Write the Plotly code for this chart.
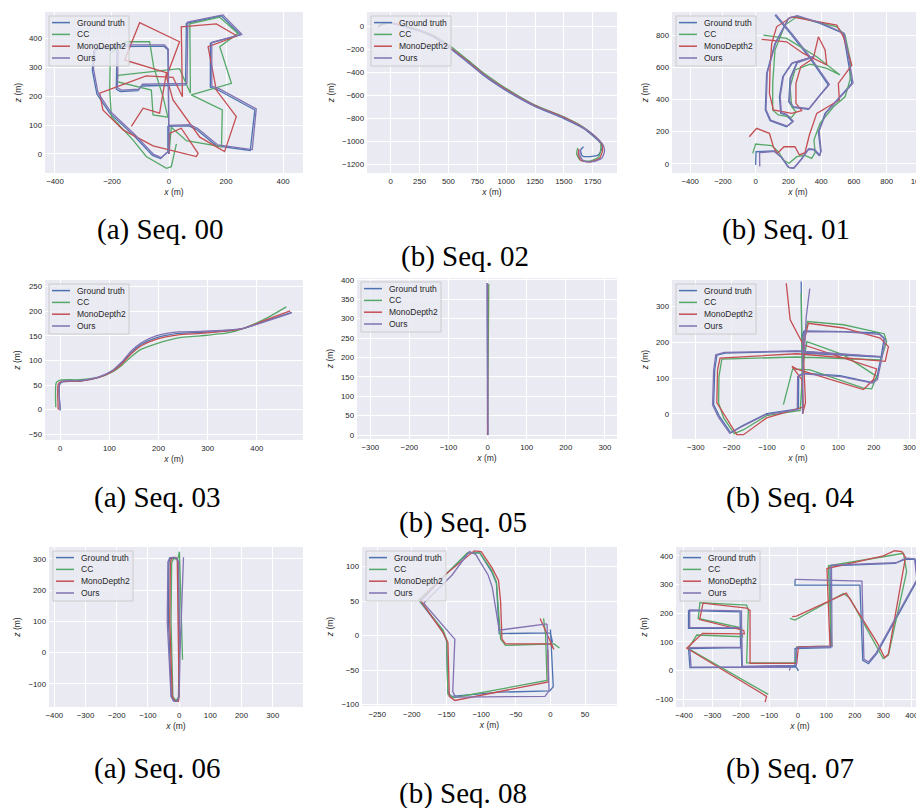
import plotly.graph_objects as go

W, H = 924, 808
OFF = 8  # the page body has an 8px margin; layout positions below are page pixels

SERIES = ["Ground truth", "CC", "MonoDepth2", "Ours"]
COLORS = ["#4C72B0", "#55A868", "#C44E52", "#8172B2"]

# ---------------- data (x, z) in metres ----------------
seq00_gt = [(0,0),(-4,360),(-19,373),(-182,371),(-185,224),(-171,216),(-109,219),(-97,235),(58,239),(61,452),(184,478),(250,412),(145,383),(145,231),(172,221),(301,152),(285,12),(166,28),(96,85),(70,97),(-4,95),(-4,8),(-30,-16),(-58,-5),(-126,66),(-208,141),(-253,207),(-269,290),(-264,357),(-243,364),(-185,364)]
seq00_cc = [(0,0),(8,92),(61,46),(184,25),(187,152),(78,204),(219,244),(178,371),(242,417),(178,473),(73,450),(75,210),(37,295),(-179,272),(-182,250),(-62,221),(-56,135),(-4,127),(-21,198),(-54,302),(-68,388),(-150,388),(-206,348),(-208,221),(-202,129),(-126,48),(-80,-9),(-9,-50),(8,-44),(26,35)]
seq00_md2 = [(0,0),(2,71),(43,89),(102,2),(96,-9),(-56,28),(-161,83),(-232,152),(-243,210),(-80,270),(14,265),(47,198),(43,440),(166,450),(239,408),(137,371),(166,221),(236,129),(195,8),(108,58),(14,187),(-9,267),(37,388),(-103,454),(-156,325),(-9,281),(-33,141),(-91,158),(-132,95)]
seq00_ours = [(0,0),(-2,362),(-16,377),(-178,377),(-181,229),(-167,221),(-105,224),(-93,241),(63,244),(66,456),(189,481),(255,414),(150,386),(150,235),(177,225),(306,156),(292,15),(171,31),(101,88),(74,101),(0,99),(-1,10),(-27,-13),(-55,-1),(-122,69),(-204,145),(-249,211),(-265,294),(-260,361),(-239,369),(-181,369)]

seq02_gt = [(-110,-5),(-60,18),(0,25),(80,5),(250,-45),(370,-95),(510,-190),(660,-310),(800,-425),(950,-530),(1090,-615),(1250,-700),(1500,-805),(1670,-890),(1760,-962),(1820,-1020),(1830,-1060),(1800,-1120),(1730,-1135),(1660,-1130),(1645,-1080),(1670,-1050)]
seq02_cc = [(-110,0),(-60,22),(0,30),(80,12),(250,-35),(370,-80),(510,-170),(660,-290),(800,-405),(950,-510),(1090,-598),(1250,-688),(1500,-790),(1670,-880),(1760,-952),(1815,-1010),(1820,-1060),(1800,-1140),(1720,-1175),(1640,-1165),(1610,-1110),(1620,-1060)]
seq02_md2 = [(-110,-5),(-60,18),(0,27),(80,8),(250,-40),(370,-90),(510,-185),(660,-300),(800,-415),(950,-520),(1090,-605),(1250,-692),(1500,-795),(1670,-885),(1765,-955),(1830,-1030),(1835,-1080),(1810,-1150),(1730,-1180),(1650,-1170),(1625,-1120),(1630,-1070)]
seq02_ours = [(-100,-2),(-55,20),(0,28),(80,7),(250,-42),(370,-92),(510,-188),(660,-306),(800,-420),(950,-526),(1090,-610),(1250,-696),(1500,-800),(1670,-886),(1770,-960),(1840,-1035),(1852,-1085),(1828,-1150),(1750,-1180),(1675,-1175),(1640,-1130),(1642,-1075)]

seq01_gt = [(0,-6),(2,76),(112,81),(153,45),(200,-21),(230,-27),(275,25),(322,91),(356,87),(389,50),(397,76),(383,200),(424,314),(515,417),(587,500),(560,665),(536,810),(393,872),(251,917),(200,903),(118,748),(67,562),(59,335),(88,269),(189,231),(226,262),(185,304),(153,314),(145,417),(165,541),(220,624),(352,665),(251,628),(210,531),(202,386),(226,351),(322,339),(393,428),(444,490),(332,655),(220,800),(118,924)]
seq01_cc = [(-18,66),(0,124),(98,114),(138,76),(173,21),(204,4),(251,45),(297,54),(342,35),(363,70),(356,149),(393,252),(475,355),(546,417),(576,521),(580,634),(546,800),(495,851),(251,913),(179,862),(118,707),(104,500),(104,335),(138,304),(220,289),(246,324),(220,355),(210,479),(240,583),(332,620),(434,593),(515,552),(373,665),(189,779),(47,800)]
seq01_md2 = [(-39,169),(6,221),(84,190),(108,107),(132,66),(173,107),(240,107),(267,56),(301,70),(328,180),(373,314),(434,351),(511,397),(505,500),(536,545),(587,614),(536,789),(495,862),(220,913),(128,851),(98,748),(88,603),(84,438),(108,335),(220,314),(281,331),(246,376),(246,500),(275,603),(352,655),(383,789),(424,707),(434,614),(291,686),(189,758),(37,773)]
seq01_ours = [(25,-15),(24,70),(115,78),(158,42),(205,-22),(235,-25),(280,28),(325,95),(360,90),(392,55),(400,80),(388,205),(430,318),(522,420),(595,502),(566,668),(540,812),(396,875),(254,920),(203,906),(122,750),(71,565),(63,338),(92,272),(193,235),(230,266),(189,308),(157,318),(150,420),(170,545),(225,628),(357,668),(256,632),(215,535),(207,390),(231,355),(327,343),(398,432),(450,494),(337,659),(225,804),(122,928)]

seq03_gt = [(0,0),(-2,50),(5,57),(40,58),(80,66),(105,78),(125,95),(145,117),(165,133),(195,146),(240,155),(285,157),(340,160),(375,166),(420,181),(471,198)]
seq03_cc = [(-9,5),(-8,55),(0,60),(40,61),(80,66),(105,76),(125,90),(145,108),(165,123),(195,134),(240,146),(285,150),(340,156),(375,166),(420,186),(460,209)]
seq03_md2 = [(-4,0),(-4,52),(2,57),(40,58),(80,66),(105,77),(125,93),(145,114),(165,130),(195,143),(240,152),(285,155),(340,160),(375,166),(420,183),(468,201)]
seq03_ours = [(0,-2),(-1,52),(6,58),(40,59),(80,67),(105,79),(125,97),(145,120),(165,136),(195,150),(240,158),(285,159),(340,162),(375,166),(420,180),(471,197)]

seq05_gt = [(0,0),(0,100),(-1,200),(-1,300),(-1,392)]
seq05_cc = [(0,0),(1,100),(1.5,200),(2,300),(3,390)]
seq05_md2 = [(0,0),(0.5,100),(0.5,200),(0,300),(0,388)]
seq05_ours = [(1,0),(0.5,100),(0,200),(-0.5,300),(-1,392)]

seq04_gt = [(0,1),(-1,105),(-1,216),(4,232),(115,230),(213,226),(229,212),(220,156),(208,100),(194,88),(105,107),(2,114),(-11,107),(-12,14),(-101,1),(-171,-34),(-202,-53),(-234,-6),(-250,26),(-247,123),(-241,164),(-218,170),(-16,175),(220,159),(-2,170),(-4,370)]
seq04_cc = [(-4,337),(0,7),(-1,95),(0,198),(14,258),(115,249),(229,224),(236,202),(220,151),(-16,159),(-227,153),(-235,105),(-236,31),(-222,-11),(-192,-55),(-166,-44),(-101,-5),(-7,10),(2,142),(12,202),(115,165),(208,105),(194,70),(171,72),(21,123),(-28,126),(-54,26)]
seq04_md2 = [(0,1),(8,31),(4,123),(2,193),(16,253),(115,240),(218,212),(241,188),(232,147),(-16,168),(-232,156),(-239,123),(-241,31),(-218,-6),(-185,-58),(-166,-58),(-101,-11),(2,19),(-2,96),(-30,133),(-16,125),(171,68),(199,96),(208,126),(2,193),(-35,263),(-46,365)]
seq04_ours = [(0,0),(0,105),(1,215),(7,230),(118,229),(216,222),(232,208),(222,152),(210,96),(196,86),(107,104),(4,112),(-14,105),(-15,12),(-104,-2),(-174,-37),(-205,-54),(-237,-8),(-253,25),(-250,122),(-244,165),(-220,172),(-14,176),(222,160),(5,172),(10,270),(20,350)]

seq06_gt = [(0,0),(-2,150),(-3,290),(-10,302),(-28,302),(-33,288),(-34,100),(-25,-140),(-18,-153),(-6,-153),(-2,-140),(0,0)]
seq06_cc = [(11,-23),(6,150),(1,323),(-4,300),(-18,300),(-24,288),(-26,100),(-20,-140),(-14,-150),(-4,-150),(-1,-140),(0,100),(-2,290)]
seq06_md2 = [(0,0),(-4,150),(-5,295),(-10,305),(-22,305),(-28,290),(-30,100),(-22,-140),(-14,-156),(-2,-156),(0,-140),(-2,100),(-6,300)]
seq06_ours = [(2,0),(0,150),(-2,292),(-10,304),(-30,304),(-36,290),(-38,100),(-26,-140),(-18,-155),(-6,-155),(0,-140),(3,0),(8,150),(14,305)]

seq08_gt = [(0,9),(4,-74),(-1,-80),(-73,-82),(-143,-88),(-148,-82),(-150,-7),(-155,6),(-188,49),(-150,90),(-119,120),(-102,120),(-85,93),(-78,76),(-74,3),(0,4),(3,-10)]
seq08_cc = [(13,-18),(5,-12),(-65,-14),(-72,-5),(-76,50),(-78,78),(-85,95),(-102,120),(-120,120),(-150,90),(-190,52),(-155,8),(-150,-5),(-148,-85),(-140,-90),(-5,-65),(-7,0),(-10,25)]
seq08_md2 = [(-15,25),(5,-20),(0,-12),(-65,-12),(-70,-5),(-72,50),(-75,80),(-84,98),(-100,122),(-110,123),(-150,90),(-188,52),(-155,4),(-148,-10),(-146,-88),(-138,-94),(-3,-67),(-4,-20)]
seq08_ours = [(-5,17),(-2,-80),(-8,-88),(-73,-88),(-137,-89),(-141,-81),(-138,-5),(-145,3),(-183,47),(-142,88),(-117,122),(-108,118),(-90,88),(-84,70),(-74,8),(-5,17)]

seq07_gt = [(2,-1),(-6,13),(-379,10),(-384,77),(-201,80),(-203,205),(-384,209),(-384,147),(-201,147),(-197,13),(-10,15),(-10,77),(115,80),(113,365),(341,374),(376,388),(412,388),(420,316),(277,59),(248,24),(228,36),(218,298),(-10,298),(-10,318)]
seq07_cc = [(-28,182),(-10,176),(160,269),(183,252),(300,42),(318,54),(382,345),(371,409),(300,397),(107,365),(119,85),(-4,83),(-9,27),(-180,27),(-174,211),(-180,228),(-344,237),(-350,182),(-203,150),(-194,118),(-355,124),(-385,77),(-104,-83)]
seq07_md2 = [(-20,188),(-5,190),(170,270),(280,95),(305,45),(318,58),(378,395),(365,415),(340,418),(300,400),(102,356),(113,85),(2,83),(-4,25),(-168,25),(-168,210),(-180,218),(-333,235),(-345,178),(-190,140),(-188,128),(-335,130),(-390,78),(-110,-90),(-115,-110)]
seq07_ours = [(-30,0),(-26,12),(-375,12),(-380,80),(-198,82),(-198,208),(-380,212),(-380,150),(-197,150),(-195,15),(-5,18),(-5,80),(120,84),(118,368),(345,376),(380,392),(410,390),(418,318),(275,62),(248,30),(232,40),(225,312),(-10,318)]

# ---------------- panel layout (page pixels) ----------------
panels = [
    dict(data=[seq00_gt, seq00_cc, seq00_md2, seq00_ours], px=(45, 303, 12, 173), smooth=False,
         xr=(-435, 470), yr=(-66, 491), xt=[-400, -200, 0, 200, 400], yt=[0, 100, 200, 300, 400]),
    dict(data=[seq02_gt, seq02_cc, seq02_md2, seq02_ours], px=(367, 617, 12, 173), smooth=True,
         xr=(-205, 1960), yr=(-1278, 122), xt=[0, 250, 500, 750, 1000, 1250, 1500, 1750],
         yt=[-1200, -1000, -800, -600, -400, -200, 0]),
    dict(data=[seq01_gt, seq01_cc, seq01_md2, seq01_ours], px=(672, 924, 12, 173), smooth=False,
         xr=(-511, 1028), yr=(-56, 943), xt=[-400, -200, 0, 200, 400, 600, 800, 1000],
         yt=[0, 200, 400, 600, 800]),
    dict(data=[seq03_gt, seq03_cc, seq03_md2, seq03_ours], px=(45, 303, 280, 440), smooth=True,
         xr=(-31, 494), yr=(-61.6, 263.6), xt=[0, 100, 200, 300, 400],
         yt=[-50, 0, 50, 100, 150, 200, 250]),
    dict(data=[seq05_gt, seq05_cc, seq05_md2, seq05_ours], px=(357, 617, 278, 439), smooth=False,
         xr=(-334, 331), yr=(-10, 405), xt=[-300, -200, -100, 0, 100, 200, 300],
         yt=[0, 50, 100, 150, 200, 250, 300, 350, 400]),
    dict(data=[seq04_gt, seq04_cc, seq04_md2, seq04_ours], px=(672, 924, 280, 439), smooth=False,
         xr=(-367, 341), yr=(-70, 374), xt=[-300, -200, -100, 0, 100, 200, 300],
         yt=[0, 100, 200, 300]),
    dict(data=[seq06_gt, seq06_cc, seq06_md2, seq06_ours], px=(49, 303, 547, 707), smooth=False,
         xr=(-417, 397), yr=(-174, 338), xt=[-400, -300, -200, -100, 0, 100, 200, 300],
         yt=[-100, 0, 100, 200, 300]),
    dict(data=[seq08_gt, seq08_cc, seq08_md2, seq08_ours], px=(362, 617, 547, 706), smooth=False,
         xr=(-272, 96), yr=(-102, 128.6), xt=[-250, -200, -150, -100, -50, 0, 50],
         yt=[-100, -50, 0, 50, 100]),
    dict(data=[seq07_gt, seq07_cc, seq07_md2, seq07_ours], px=(676, 924, 547, 707), smooth=False,
         xr=(-428, 443), yr=(-127, 431), xt=[-400, -300, -200, -100, 0, 100, 200, 300, 400],
         yt=[-100, 0, 100, 200, 300, 400]),
]

captions = [
    ("(a) Seq. 00", 160, 229), ("(b) Seq. 02", 465, 256), ("(b) Seq. 01", 786, 229),
    ("(a) Seq. 03", 157, 497), ("(b) Seq. 05", 463, 522), ("(b) Seq. 04", 790, 497),
    ("(a) Seq. 06", 157, 768), ("(b) Seq. 08", 463, 793), ("(b) Seq. 07", 790, 768),
]

TXT = "#262626"
SANS = "Liberation Sans, Arial, sans-serif"


def fx(x):
    return (x - OFF) / W


def fy(y):
    return 1 - (y - OFF) / H


fig = go.Figure()
layout = dict(
    width=W, height=H, margin=dict(l=0, r=0, t=0, b=0),
    paper_bgcolor="white", plot_bgcolor="#EAEAF2",
    showlegend=False, template="none",
    font=dict(family=SANS, color=TXT),
)
shapes = []
annotations = []

for i, p in enumerate(panels):
    n = i + 1
    xa = "x" if n == 1 else f"x{n}"
    ya = "y" if n == 1 else f"y{n}"
    for pts, name, col in zip(p["data"], SERIES, COLORS):
        line = dict(color=col, width=1.3)
        if p["smooth"]:
            line.update(shape="spline", smoothing=0.6)
        fig.add_trace(go.Scatter(
            x=[q[0] for q in pts], y=[q[1] for q in pts], mode="lines", name=name,
            line=line, xaxis=xa, yaxis=ya, showlegend=False, hoverinfo="skip"))
    x0, x1, y0, y1 = p["px"]
    common = dict(showgrid=True, gridcolor="white", gridwidth=1, zeroline=False,
                  showline=False, ticks="", tickfont=dict(size=7.8, color=TXT, family=SANS),
                  automargin=False, fixedrange=True)
    layout["xaxis" + ("" if n == 1 else str(n))] = dict(
        common, domain=[fx(x0), min(fx(x1), 1)], anchor=ya, range=list(p["xr"]), tickvals=p["xt"],
        ticklabelstandoff=2,
        title=dict(text="<i>x</i> (m)", font=dict(size=8.5, color=TXT, family=SANS), standoff=4))
    layout["yaxis" + ("" if n == 1 else str(n))] = dict(
        common, domain=[fy(y1), fy(y0)], anchor=xa, range=list(p["yr"]), tickvals=p["yt"],
        ticklabelstandoff=2,
        title=dict(text="<i>z</i> (m)", font=dict(size=8.5, color=TXT, family=SANS), standoff=6))

    # legend box (upper left inside the axes)
    bx, by = x0 + 4, y0 + 4
    bw, bh = 80, 50
    shapes.append(dict(type="rect", xref="paper", yref="paper",
                       x0=fx(bx), x1=fx(bx + bw), y0=fy(by + bh), y1=fy(by),
                       fillcolor="rgba(234,234,242,0.8)", line=dict(color="#CCCCCC", width=1),
                       layer="above"))
    for k, (name, col) in enumerate(zip(SERIES, COLORS)):
        ly = by + 6.6 + k * 11.8
        shapes.append(dict(type="line", xref="paper", yref="paper",
                           x0=fx(bx + 3), x1=fx(bx + 21), y0=fy(ly), y1=fy(ly),
                           line=dict(color=col, width=1.5), layer="above"))
        annotations.append(dict(xref="paper", yref="paper", x=fx(bx + 26), y=fy(ly),
                                xanchor="left", yanchor="middle", showarrow=False, text=name,
                                font=dict(size=8.5, color=TXT, family=SANS)))

for text, cx, cy in captions:
    annotations.append(dict(xref="paper", yref="paper", x=fx(cx), y=fy(cy),
                            xanchor="center", yanchor="middle", showarrow=False, text=text,
                            font=dict(size=29, color="black", family="Liberation Serif, serif")))

layout["shapes"] = shapes
layout["annotations"] = annotations
fig.update_layout(**layout)
fig.write_html("out.html")
